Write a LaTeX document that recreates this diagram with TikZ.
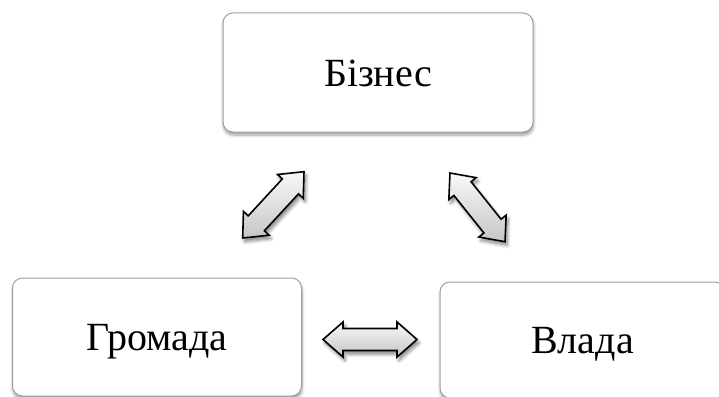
\documentclass[tikz,border=0pt]{standalone}
\usepackage{fontspec}
\setmainfont{Liberation Serif}
\usetikzlibrary{calc,shadows.blur}
\tikzset{
  box/.style={draw=gray!75, line width=1pt, rounded corners=10pt, fill=white,
    inner sep=0pt, text height=27pt, text depth=0pt,
    font=\fontsize{40}{40}\selectfont,
    blur shadow={shadow xshift=0.5pt, shadow yshift=-3pt, shadow blur steps=6, shadow blur radius=3pt}},
  blockarr/.style={draw=black, line width=1.6pt, line join=miter,
    top color=gray!5, bottom color=gray!45,
    blur shadow={shadow xshift=2pt, shadow yshift=-3.5pt, shadow blur steps=6, shadow blur radius=3.5pt, shadow opacity=50}}
}
\newcommand{\dblarr}[2]{%
  \path[blockarr] (#1)
    -- ($(#1)!20pt!(#2)!17.5pt!90:(#2)$)
    -- ($(#1)!20pt!(#2)!11pt!90:(#2)$)
    -- ($(#2)!20pt!(#1)!11pt!-90:(#1)$)
    -- ($(#2)!20pt!(#1)!17.5pt!-90:(#1)$)
    -- (#2)
    -- ($(#2)!20pt!(#1)!17.5pt!90:(#1)$)
    -- ($(#2)!20pt!(#1)!11pt!90:(#1)$)
    -- ($(#1)!20pt!(#2)!11pt!-90:(#2)$)
    -- ($(#1)!20pt!(#2)!17.5pt!-90:(#2)$)
    -- cycle;}
\begin{document}
\begin{tikzpicture}[x=1pt,y=-1pt]
  \useasboundingbox (0,0) rectangle (719,396);
  \node[box, minimum width=310pt, minimum height=119pt] (biz) at (378,72.5) {Бізнес};
  \node[box, minimum width=289pt, minimum height=118pt] (grom) at (157,337) {Громада};
  \node[box, minimum width=285pt, minimum height=116pt] (vlada) at (582.5,340) {Влада};
  \coordinate (l1) at (242.7,238);
  \coordinate (l2) at (304,171.7);
  \coordinate (r1) at (450,173);
  \coordinate (r2) at (505,241.7);
  \coordinate (h1) at (323,339.5);
  \coordinate (h2) at (417,339.5);
  \dblarr{l1}{l2}
  \dblarr{r1}{r2}
  \dblarr{h1}{h2}
\end{tikzpicture}
\end{document}
